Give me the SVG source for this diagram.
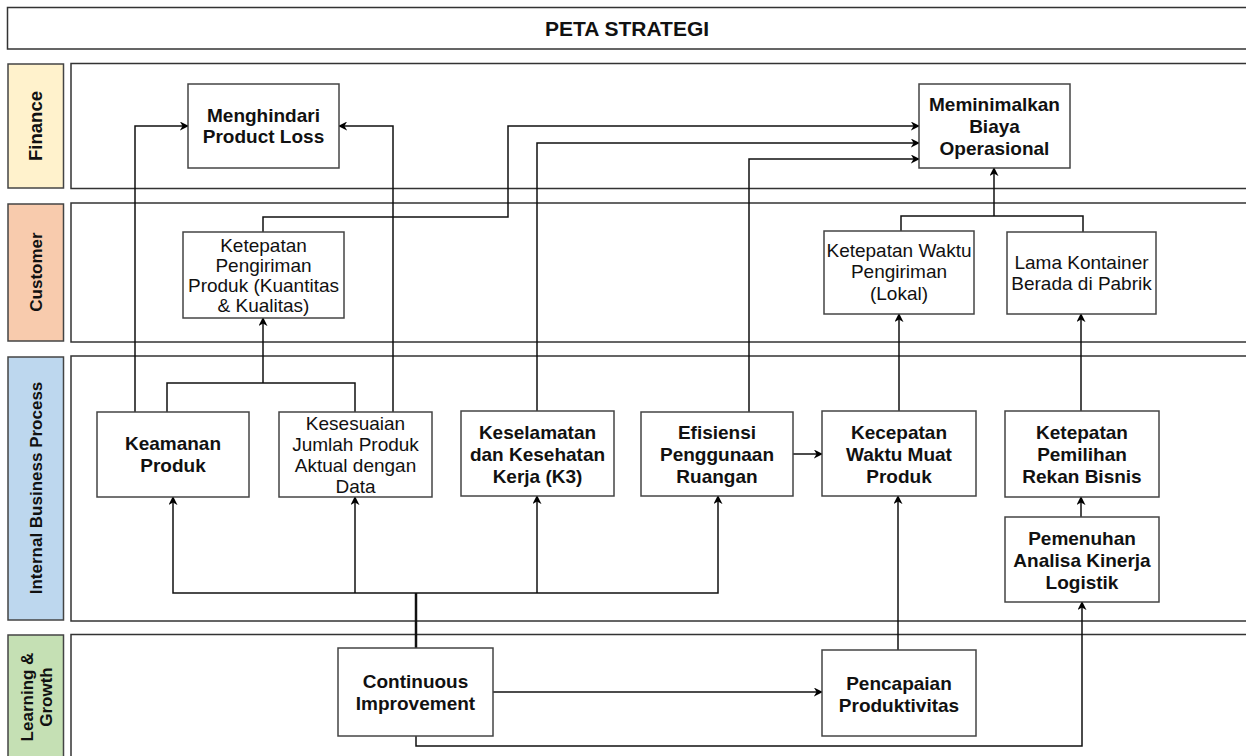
<svg xmlns="http://www.w3.org/2000/svg" width="1246" height="756" viewBox="0 0 1246 756">
<defs>
<marker id="arr" viewBox="0 0 10 10" refX="9" refY="5" markerWidth="9" markerHeight="9" markerUnits="userSpaceOnUse" orient="auto">
<path d="M0,0 L10,5 L0,10 L3,5 z" fill="#000"/>
</marker>
<style>
.lane{fill:#fff;stroke:#333;stroke-width:1.5}
.lbl{stroke:#444;stroke-width:1.5}
.node{fill:#fff;stroke:#444;stroke-width:1.5}
.t{font-family:"Liberation Sans",Arial,sans-serif;font-size:19px;fill:#111;text-anchor:middle}
.b{font-weight:bold}
.lt{font-family:"Liberation Sans",Arial,sans-serif;font-size:17px;font-weight:bold;fill:#111;text-anchor:middle}
.c{fill:none;stroke:#111;stroke-width:1.5}
.ca{fill:none;stroke:#111;stroke-width:1.5;marker-end:url(#arr)}
</style>
</defs>
<rect width="1246" height="756" fill="#fff"/>

<g id="title">
<rect class="lane" x="7.5" y="7.5" width="1250" height="41.5"/>
<text class="t b" x="627" y="36" style="font-size:21px">PETA STRATEGI</text>
</g>

<g id="lane-finance">
<rect class="lane" x="71" y="63.5" width="1190" height="125"/>
<rect class="lbl" x="8" y="64" width="55.5" height="124" fill="#fff2cc"/>
<text class="lt" transform="translate(42,126) rotate(-90)" style="font-size:18.5px">Finance</text>
</g>
<g id="lane-customer">
<rect class="lane" x="71" y="203" width="1190" height="139"/>
<rect class="lbl" x="8" y="204" width="55.5" height="137" fill="#f8cbad"/>
<text class="lt" transform="translate(41.5,272) rotate(-90)">Customer</text>
</g>
<g id="lane-internal">
<rect class="lane" x="71" y="356" width="1190" height="265"/>
<rect class="lbl" x="8" y="357" width="55.5" height="263" fill="#bdd7ee"/>
<text class="lt" transform="translate(41.5,488) rotate(-90)">Internal Business Process</text>
</g>
<g id="lane-learning">
<rect class="lane" x="71" y="634.5" width="1190" height="130"/>
<rect class="lbl" x="8" y="635" width="55.5" height="130" fill="#c5e0b4"/>
<text class="lt" transform="translate(33,697) rotate(-90)">Learning &amp;</text>
<text class="lt" transform="translate(52,697) rotate(-90)">Growth</text>
</g>

<g id="connectors">
<path class="ca" d="M135,412 V126 H188"/>
<path class="ca" d="M393,412 V126 H339"/>
<path class="c" d="M167,412 V383 H355 V412"/>
<path class="ca" d="M263,383 V318"/>
<path class="ca" d="M263,232 V217 H508 V126 H919"/>
<path class="ca" d="M537,411 V143 H919"/>
<path class="ca" d="M749,412 V159 H919"/>
<path class="c" d="M901,231 V216 H1083 V232"/>
<path class="ca" d="M994,216 V168"/>
<path class="ca" d="M899,411 V314"/>
<path class="ca" d="M1081,411 V314"/>
<path class="ca" d="M1081,517 V497"/>
<path class="ca" d="M793,454 H822"/>
<path class="c" d="M416,648 V593" style="stroke-width:2.5"/>
<path class="ca" d="M416,593 H173 V497"/>
<path class="ca" d="M355,593 V497"/>
<path class="ca" d="M416,593 H718 V496"/>
<path class="ca" d="M537,593 V496"/>
<path class="ca" d="M493,692 H822"/>
<path class="ca" d="M898,650 V496"/>
<path class="ca" d="M416,736 V746 H1082 V602"/>
</g>

<g id="n-menghindari">
<rect class="node" x="188" y="84" width="151" height="84"/>
<text class="t b" x="263.5" y="122">Menghindari</text>
<text class="t b" x="263.5" y="143">Product Loss</text>
</g>
<g id="n-meminimalkan">
<rect class="node" x="919" y="84" width="151" height="84"/>
<text class="t b" x="994.5" y="111">Meminimalkan</text>
<text class="t b" x="994.5" y="133">Biaya</text>
<text class="t b" x="994.5" y="155">Operasional</text>
</g>
<g id="n-ketepatan-pengiriman">
<rect class="node" x="183" y="232" width="161" height="86"/>
<text class="t" x="263.5" y="252">Ketepatan</text>
<text class="t" x="263.5" y="272">Pengiriman</text>
<text class="t" x="263.5" y="292">Produk (Kuantitas</text>
<text class="t" x="263.5" y="312">&amp; Kualitas)</text>
</g>
<g id="n-ketepatan-waktu">
<rect class="node" x="824" y="231" width="150" height="83"/>
<text class="t" x="899" y="257">Ketepatan Waktu</text>
<text class="t" x="899" y="278">Pengiriman</text>
<text class="t" x="899" y="300">(Lokal)</text>
</g>
<g id="n-lama-kontainer">
<rect class="node" x="1007" y="232" width="149" height="82"/>
<text class="t" x="1081.5" y="269">Lama Kontainer</text>
<text class="t" x="1081.5" y="290">Berada di Pabrik</text>
</g>
<g id="n-keamanan">
<rect class="node" x="97" y="412" width="152" height="85"/>
<text class="t b" x="173" y="450">Keamanan</text>
<text class="t b" x="173" y="472">Produk</text>
</g>
<g id="n-kesesuaian">
<rect class="node" x="279" y="412" width="153" height="85"/>
<text class="t" x="355.5" y="430">Kesesuaian</text>
<text class="t" x="355.5" y="451">Jumlah Produk</text>
<text class="t" x="355.5" y="472">Aktual dengan</text>
<text class="t" x="355.5" y="493">Data</text>
</g>
<g id="n-keselamatan">
<rect class="node" x="461" y="411" width="153" height="85"/>
<text class="t b" x="537.5" y="439">Keselamatan</text>
<text class="t b" x="537.5" y="461">dan Kesehatan</text>
<text class="t b" x="537.5" y="483">Kerja (K3)</text>
</g>
<g id="n-efisiensi">
<rect class="node" x="641" y="412" width="152" height="84"/>
<text class="t b" x="717" y="439">Efisiensi</text>
<text class="t b" x="717" y="461">Penggunaan</text>
<text class="t b" x="717" y="483">Ruangan</text>
</g>
<g id="n-kecepatan">
<rect class="node" x="822" y="411" width="154" height="85"/>
<text class="t b" x="899" y="439">Kecepatan</text>
<text class="t b" x="899" y="461">Waktu Muat</text>
<text class="t b" x="899" y="483">Produk</text>
</g>
<g id="n-ketepatan-pemilihan">
<rect class="node" x="1005" y="411" width="154" height="86"/>
<text class="t b" x="1082" y="439">Ketepatan</text>
<text class="t b" x="1082" y="461">Pemilihan</text>
<text class="t b" x="1082" y="483">Rekan Bisnis</text>
</g>
<g id="n-pemenuhan">
<rect class="node" x="1005" y="517" width="154" height="85"/>
<text class="t b" x="1082" y="545">Pemenuhan</text>
<text class="t b" x="1082" y="567">Analisa Kinerja</text>
<text class="t b" x="1082" y="589">Logistik</text>
</g>
<g id="n-continuous">
<rect class="node" x="338" y="648" width="155" height="88"/>
<text class="t b" x="415.5" y="688">Continuous</text>
<text class="t b" x="415.5" y="710">Improvement</text>
</g>
<g id="n-pencapaian">
<rect class="node" x="822" y="650" width="154" height="86"/>
<text class="t b" x="899" y="690">Pencapaian</text>
<text class="t b" x="899" y="712">Produktivitas</text>
</g>
</svg>
